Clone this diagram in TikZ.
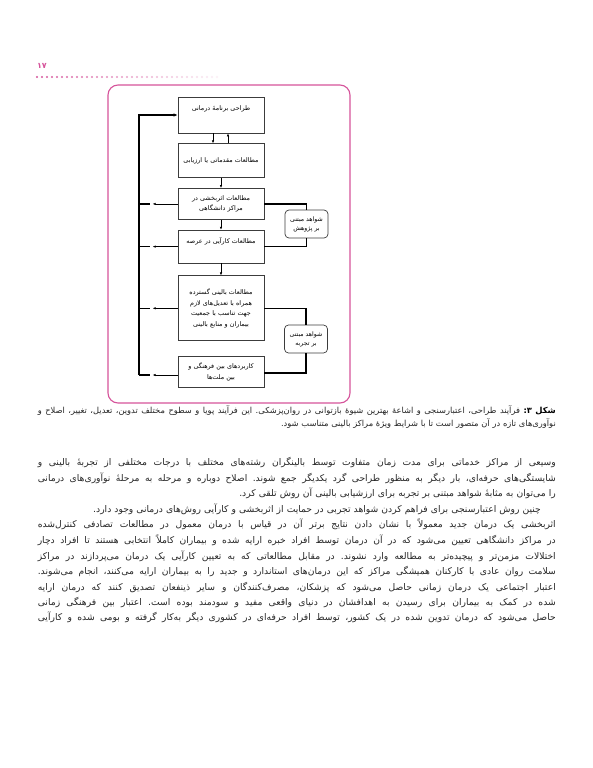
\documentclass[tikz,border=0pt]{standalone}
\usepackage{fontspec}
\newfontfamily\farsi[Script=Arabic]{DejaVu Sans}
\TeXXeTstate=1
\usetikzlibrary{positioning,arrows.meta}
\definecolor{framepink}{RGB}{214,84,155}
\definecolor{boxgray}{RGB}{60,60,60}
\newcommand{\fatext}[1]{\beginR #1\endR}
\newcommand{\jfatext}[1]{\parfillskip=0pt\spaceskip=0.3em plus 2em minus 0.1em\xspaceskip=\spaceskip\noindent\beginR #1\endR\par}

\begin{document}
\begin{tikzpicture}[x=1pt,y=-1pt,
  box/.style={draw=boxgray, line width=0.7pt, minimum width=86pt, text width=80pt, align=center, inner sep=2pt, font=\farsi\fontsize{6.4}{10.5}\selectfont},
  evid/.style={draw=boxgray, line width=0.7pt, rounded corners=4pt, minimum width=43pt, minimum height=28pt, inner sep=1pt, align=center, font=\farsi\fontsize{6.2}{9}\selectfont},
  flow/.style={-{Latex[length=3pt,width=2.4pt]}, line width=0.5pt},
  bus/.style={line width=1.4pt},
  textline/.style={anchor=east, inner sep=0pt, text width=518pt, align=justify, text=black!85, font=\farsi\fontsize{9.2}{11}\selectfont},
  capline/.style={textline, font=\farsi\fontsize{8.3}{10}\selectfont},
  rline/.style={align=right}]
\fill[white] (0,0) rectangle (593,768);
\useasboundingbox (0,0) rectangle (593,768);

% page head
\node[text=framepink, font=\farsi\bfseries\fontsize{8}{8}\selectfont] (pnum) at (42,66) {۱۷};
\foreach \i [evaluate=\i as \c using 100-2.5*\i] in {0,...,36}
  \fill[framepink!\c] (37+5*\i,77) circle (1.1pt);

% frame
\draw[framepink, line width=1.1pt, rounded corners=10pt] (108,85) rectangle (350,403);

% steps
\node[box, minimum height=36pt, text depth=14pt] (b1) at (221,115) {\fatext{طراحی برنامهٔ درمانی}};
\node[box, minimum height=34pt, below=10pt of b1] (b2) {\fatext{مطالعات مقدماتی یا ارزیابی}};
\node[box, minimum height=31pt, below=10pt of b2] (b3) {\fatext{مطالعات اثربخشی در}\\\fatext{مراکز دانشگاهی}};
\node[box, minimum height=33pt, text depth=13pt, below=10pt of b3] (b4) {\fatext{مطالعات کارآیی در عرصه}};
\node[box, minimum height=65pt, below=12pt of b4] (b5) {\fatext{مطالعات بالینی گسترده}\\\fatext{همراه با تعدیل‌های لازم}\\\fatext{جهت تناسب با جمعیت}\\\fatext{بیماران و منابع بالینی}};
\node[box, minimum height=31pt, below=15pt of b5] (b6) {\fatext{کاربردهای بین فرهنگی و}\\\fatext{بین ملت‌ها}};

% evidence
\node[evid] (r1) at (306.5,224) {\fatext{شواهد مبتنی}\\\fatext{بر پژوهش}};
\node[evid] (r2) at (306,339) {\fatext{شواهد مبتنی}\\\fatext{بر تجربه}};

\coordinate (bus) at (139,0);
\draw[flow] ([xshift=-8pt]b1.south) -- ([xshift=-8pt]b2.north);
\draw[flow] ([xshift=7pt]b2.north) -- ([xshift=7pt]b1.south);
\draw[flow] (b2) -- (b3);
\draw[flow] (b3) -- (b4);
\draw[flow] (b4) -- (b5);
\draw[bus, -{Latex[length=4pt,width=3.5pt]}] ([yshift=-3pt]b6 -| bus) -- (b1 -| bus) -- (b1.west);
\draw[bus] (b3 -| bus) -- ++(11,0);
\draw[bus] (b4 -| bus) -- ++(11,0);
\draw[bus] (b5 -| bus) -- ++(11,0);
\draw[bus] ([yshift=-3pt]b6 -| bus) -- ++(11,0);
\draw[flow] (b3.west) -- ++(-25,0);
\draw[flow] (b4.west) -- ++(-25,0);
\draw[flow] (b5.west) -- ++(-25,0);
\draw[flow] ([yshift=-3pt]b6.west) -- ++(-25,0);
\draw[bus] (b3.east) -| (r1.north);
\draw[bus] (b4.east) -| (r1.south);
\draw[bus] (b5.east) -| (r2.north);
\draw[bus] ([yshift=-1pt]b6.east) -| (r2.south);

% caption
\node[capline] (cap1) at (556,411) {\jfatext{{\color{framepink}\bfseries شکل ۳\kern0pt:} فرآیند طراحی، اعتبارسنجی و اشاعهٔ بهترین شیوهٔ بازتوانی در روان‌پزشکی. این فرآیند پویا و سطوح مختلف تدوین، تعدیل، تغییر، اصلاح و}};
\node[capline, rline] (cap2) at (556,424) {\fatext{نوآوری‌های تازه در آن متصور است تا با شرایط ویژهٔ مراکز بالینی متناسب شود.}};

% body
\node[textline] (l1) at (556,462) {\jfatext{وسیعی از مراکز خدماتی برای مدت زمان متفاوت توسط بالینگران رشته‌های مختلف با درجات مختلفی از تجربهٔ بالینی و}};
\node[textline] (l2) at (556,478) {\jfatext{شایستگی‌های حرفه‌ای، بار دیگر به منظور طراحی گرد یکدیگر جمع شوند. اصلاح دوباره و مرحله به مرحلهٔ نوآوری‌های درمانی}};
\node[textline, rline] (l3) at (556,493) {\fatext{را می‌توان به مثابهٔ شواهد مبتنی بر تجربه برای ارزشیابی بالینی آن روش تلقی کرد.}};
\node[textline, rline] (l4) at (541,509) {\fatext{چنین روش اعتبارسنجی برای فراهم کردن شواهد تجربی در حمایت از اثربخشی و کارآیی روش‌های درمانی وجود دارد.}};
\node[textline] (l5) at (556,524) {\jfatext{اثربخشی یک درمان جدید معمولاً با نشان دادن نتایج برتر آن در قیاس با درمان معمول در مطالعات تصادفی کنترل‌شده}};
\node[textline] (l6) at (556,540) {\jfatext{در مراکز دانشگاهی تعیین می‌شود که در آن درمان توسط افراد خبره ارایه شده و بیماران کاملاً انتخابی هستند تا افراد دچار}};
\node[textline] (l7) at (556,556) {\jfatext{اختلالات مزمن‌تر و پیچیده‌تر به مطالعه وارد نشوند. در مقابل مطالعاتی که به تعیین کارآیی یک درمان می‌پردازند در مراکز}};
\node[textline] (l8) at (556,571) {\jfatext{سلامت روان عادی با کارکنان همیشگی مراکز که این درمان‌های استاندارد و جدید را به بیماران ارایه می‌کنند، انجام می‌شوند.}};
\node[textline] (l9) at (556,587) {\jfatext{اعتبار اجتماعی یک درمان زمانی حاصل می‌شود که پزشکان، مصرف‌کنندگان و سایر ذینفعان تصدیق کنند که درمان ارایه}};
\node[textline] (l10) at (556,602) {\jfatext{شده در کمک به بیماران برای رسیدن به اهدافشان در دنیای واقعی مفید و سودمند بوده است. اعتبار بین فرهنگی زمانی}};
\node[textline] (l11) at (556,617) {\jfatext{حاصل می‌شود که درمان تدوین شده در یک کشور، توسط افراد حرفه‌ای در کشوری دیگر به‌کار گرفته و بومی شده و کارآیی}};
\end{tikzpicture}
\end{document}
